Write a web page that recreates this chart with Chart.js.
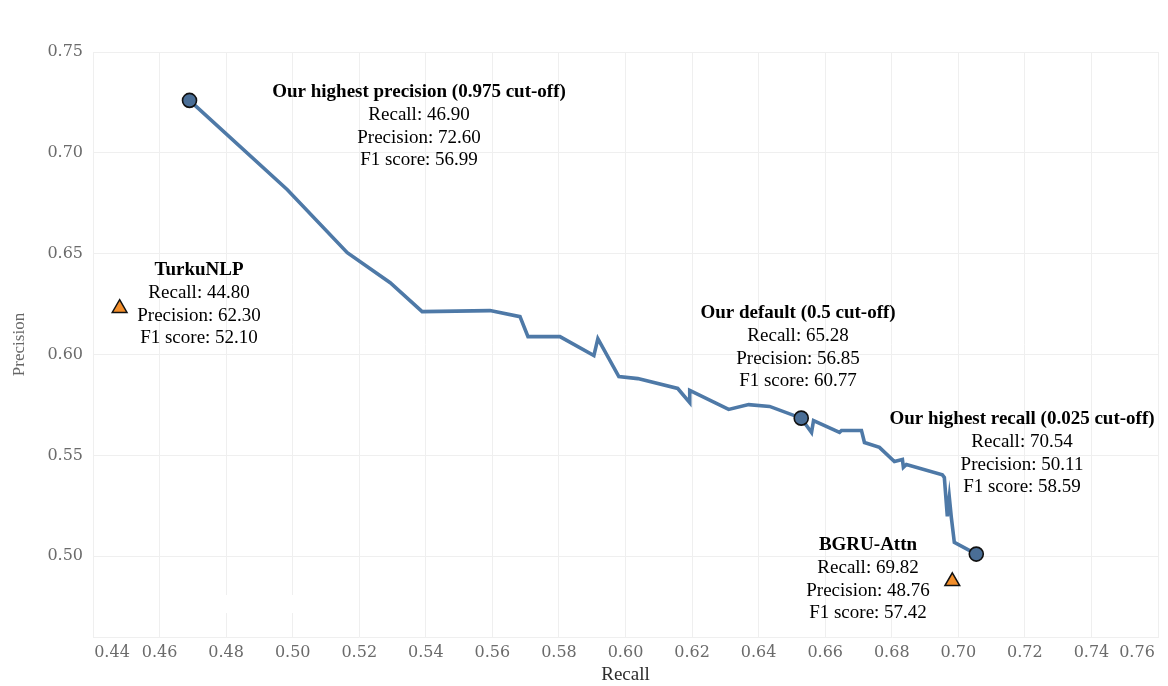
<!DOCTYPE html>
<html>
<head>
<meta charset="utf-8">
<script src="https://cdn.jsdelivr.net/npm/chart.js@4.4.1/dist/chart.umd.min.js"></script>
<style>
  html, body { margin: 0; padding: 0; background: #fff; }
  #wrap { width: 1168px; height: 686px; position: relative; }
</style>
</head>
<body>
<div id="wrap"><canvas id="pr"></canvas></div>
<script>
// precision-recall curve
const curveRecall = [
  0.4690, 0.4984, 0.5164, 0.5293, 0.5389, 0.5593, 0.5683, 0.5707, 0.5803, 0.5905,
  0.5917, 0.5980, 0.6037, 0.6157, 0.6193, 0.6193, 0.6310, 0.6370, 0.6433, 0.6528,
  0.6559, 0.6565, 0.6643, 0.6649, 0.6709, 0.6718, 0.6763, 0.6808, 0.6832, 0.6835,
  0.6844, 0.6952, 0.6958, 0.6967, 0.6973, 0.6979, 0.6988, 0.7054
];
const curvePrecision = [
  0.7260, 0.6817, 0.6505, 0.6356, 0.6213, 0.6218, 0.6188, 0.6089, 0.6089, 0.5995,
  0.6079, 0.5891, 0.5881, 0.5832, 0.5762, 0.5822, 0.5728, 0.5752, 0.5743, 0.5685,
  0.5614, 0.5673, 0.5614, 0.5624, 0.5624, 0.5564, 0.5540, 0.5470, 0.5480, 0.5441,
  0.5455, 0.5404, 0.5391, 0.5198, 0.5292, 0.5193, 0.5069, 0.5011
];

// our three cut-offs
const oursRecall    = [0.4690, 0.6528, 0.7054];
const oursPrecision = [0.7260, 0.5685, 0.5011];

// other systems
const otherRecall    = [0.4480, 0.6982];
const otherPrecision = [0.6230, 0.4876];

// axes
const xTicks = [0.44, 0.46, 0.48, 0.50, 0.52, 0.54, 0.56, 0.58, 0.60, 0.62, 0.64, 0.66, 0.68, 0.70, 0.72, 0.74, 0.76];
const yTicks = [0.50, 0.55, 0.60, 0.65, 0.70, 0.75];

// annotation texts
const labelPrecision = ['Our highest precision (0.975 cut-off)', 'Recall: 46.90', 'Precision: 72.60', 'F1 score: 56.99'];
const labelTurku     = ['TurkuNLP', 'Recall: 44.80', 'Precision: 62.30', 'F1 score: 52.10'];
const labelDefault   = ['Our default (0.5 cut-off)', 'Recall: 65.28', 'Precision: 56.85', 'F1 score: 60.77'];
const labelRecall    = ['Our highest recall (0.025 cut-off)', 'Recall: 70.54', 'Precision: 50.11', 'F1 score: 58.59'];
const labelBgru      = ['BGRU-Attn', 'Recall: 69.82', 'Precision: 48.76', 'F1 score: 57.42'];

const toXY = (xs, ys) => xs.map((x, i) => ({ x, y: ys[i] }));

const GRID = '#efefef';
const TICK_COLOR = '#6b6b6b';
const TICK_FONT = { family: '"DejaVu Serif", serif', size: 16 };

// text blocks + shifted edge tick labels
const annotations = {
  id: 'annotations',
  beforeDatasetsDraw(chart) {
    // small white patch over the grid, as in the original image
    const ctx = chart.ctx;
    ctx.save();
    ctx.fillStyle = '#fff';
    ctx.fillRect(225, 595, 68, 18);
    ctx.restore();
  },
  afterDraw(chart) {
    const ctx = chart.ctx;
    const xs = chart.scales.x;
    ctx.save();
    // 0.44 and 0.76 labels sit inside the plot edges
    ctx.fillStyle = TICK_COLOR;
    ctx.font = '16px "DejaVu Serif", serif';
    ctx.textAlign = 'center';
    ctx.textBaseline = 'middle';
    ctx.fillText('0.44', xs.getPixelForValue(0.44) + 19, 653);
    ctx.fillText('0.76', xs.getPixelForValue(0.76) - 21, 653);

    const blocks = [
      [labelPrecision, 419, 92],
      [labelTurku, 199, 270],
      [labelDefault, 798, 313],
      [labelRecall, 1022, 419],
      [labelBgru, 868, 545]
    ];
    ctx.fillStyle = '#000';
    blocks.forEach(([lines, cx, cy]) => {
      lines.forEach((t, i) => {
        ctx.font = (i === 0 ? 'bold ' : '') + '19px "Liberation Serif", serif';
        ctx.fillText(t, cx, cy + i * 22.8);
      });
    });
    ctx.restore();
  }
};

new Chart(document.getElementById('pr').getContext('2d'), {
  type: 'scatter',
  data: {
    datasets: [
      {
        label: 'ours',
        data: toXY(oursRecall, oursPrecision),
        pointRadius: 7,
        pointBackgroundColor: '#4a6e96',
        pointBorderColor: '#111',
        pointBorderWidth: 1.6,
        showLine: false
      },
      {
        label: 'others',
        data: toXY(otherRecall, otherPrecision),
        pointStyle: 'triangle',
        pointRadius: 8.5,
        pointBackgroundColor: '#f28e2b',
        pointBorderColor: '#111',
        pointBorderWidth: 1.5,
        showLine: false
      },
      {
        label: 'curve',
        data: toXY(curveRecall, curvePrecision),
        showLine: true,
        borderColor: '#4e79a7',
        borderWidth: 3.6,
        pointRadius: 0,
        tension: 0,
        borderJoinStyle: 'miter'
      }
    ]
  },
  options: {
    responsive: true,
    maintainAspectRatio: false,
    animation: false,
    layout: { padding: { top: 52, right: 9, left: 0, bottom: 0 } },
    plugins: { legend: { display: false }, tooltip: { enabled: false } },
    scales: {
      x: {
        type: 'linear',
        min: xTicks[0],
        max: xTicks[xTicks.length - 1],
        afterBuildTicks: s => { s.ticks = xTicks.map(v => ({ value: v })); },
        afterFit: s => { s.height = 49; },
        grid: { color: GRID, drawTicks: false },
        border: { color: GRID },
        ticks: {
          padding: 6,
          color: TICK_COLOR,
          font: TICK_FONT,
          maxRotation: 0,
          autoSkip: false,
          callback: v => (v === xTicks[0] || v === xTicks[xTicks.length - 1]) ? '' : v.toFixed(2)
        },
        title: {
          display: true,
          text: 'Recall',
          color: '#2e2e2e',
          font: { family: '"Liberation Serif", serif', size: 19 },
          padding: { top: 0, bottom: 0 }
        }
      },
      y: {
        type: 'linear',
        min: 0.46,
        max: 0.75,
        afterBuildTicks: s => { s.ticks = yTicks.map(v => ({ value: v })); },
        afterFit: s => { s.width = 93; },
        grid: { color: GRID, drawTicks: false },
        border: { color: GRID },
        ticks: {
          padding: 10,
          color: TICK_COLOR,
          font: TICK_FONT,
          callback: v => v.toFixed(2)
        },
        title: {
          display: true,
          text: 'Precision',
          color: '#666',
          font: { family: '"Liberation Serif", serif', size: 17 },
          padding: { top: 9, bottom: 0 }
        }
      }
    }
  },
  plugins: [annotations]
});
</script>
</body>
</html>
